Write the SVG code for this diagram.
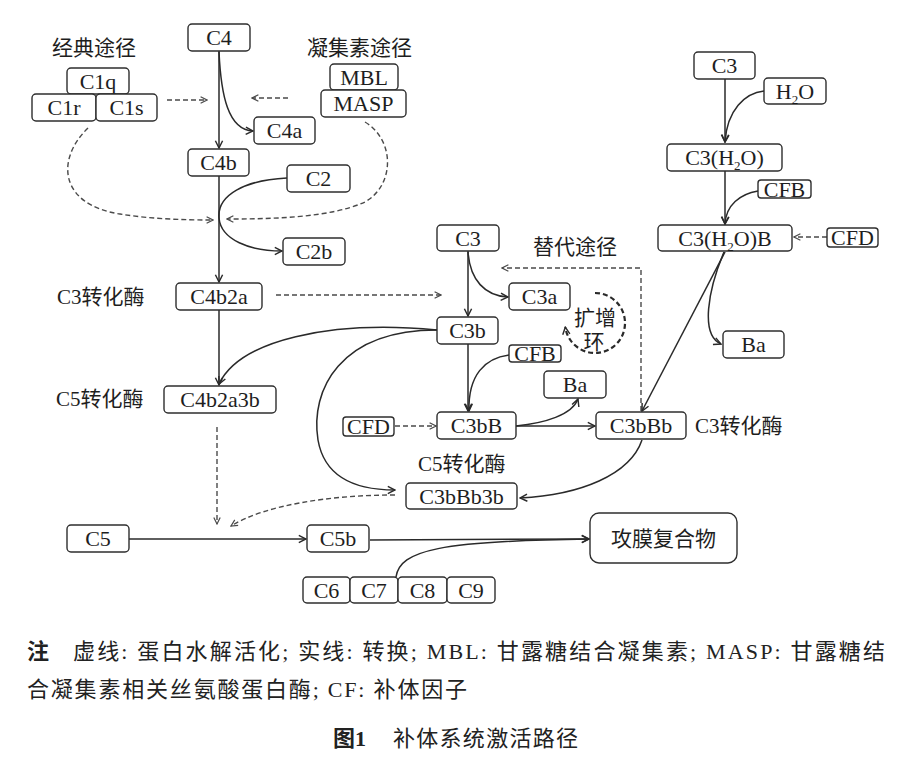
<svg xmlns="http://www.w3.org/2000/svg" width="909" height="766" viewBox="0 0 909 766">
<style>
.bx{fill:#fff;stroke:#2e2e2e;stroke-width:1.4}
.t{font-family:"Liberation Serif","Noto Sans CJK SC",serif;font-size:22px;fill:#1e1e1e;text-anchor:middle}
.cj{font-family:"Liberation Serif","Noto Sans CJK SC",serif;font-size:21px;fill:#1e1e1e}
.sol{fill:none;stroke:#2a2a2a;stroke-width:1.5;marker-end:url(#a)}
.das{fill:none;stroke:#4a4a4a;stroke-width:1.4;stroke-dasharray:5 3;marker-end:url(#ad)}
.note{font-family:"Liberation Serif","Noto Sans CJK SC",serif;font-size:22px;fill:#222}
</style>
<defs>
<marker id="a" viewBox="0 0 10 10" refX="9" refY="5" markerWidth="9" markerHeight="10" markerUnits="userSpaceOnUse" orient="auto">
<path d="M1,1 L9,5 L1,9" fill="none" stroke="#2a2a2a" stroke-width="1.6"/>
</marker>
<marker id="ad" viewBox="0 0 10 10" refX="9" refY="5" markerWidth="8" markerHeight="9" markerUnits="userSpaceOnUse" orient="auto">
<path d="M1,1 L9,5 L1,9" fill="none" stroke="#4a4a4a" stroke-width="1.5"/>
</marker>
</defs>
<rect width="909" height="766" fill="#fff"/>

<g id="connectors">
<path class="sol" d="M219,51 L219,148"/>
<path class="sol" d="M219,52 C221,95 228,130 253,131"/>
<path class="das" d="M167,100 L207,100"/>
<path class="das" d="M288,98 L252,98"/>
<path class="sol" d="M219,176 L219,282"/>
<path class="sol" d="M287,178 C245,180 217,195 219,218 C221,240 250,251 282,251"/>
<path class="das" d="M88,128 C55,160 60,205 120,214 C150,219 185,220 213,220"/>
<path class="das" d="M365,122 C395,140 395,185 365,202 C330,218 270,219 227,219"/>
<path class="sol" d="M219,310 L219,385"/>
<path class="das" d="M276,295 L441,295"/>
<path class="sol" d="M468,251 L468,316"/>
<path class="sol" d="M468,252 C470,280 485,296 508,297"/>
<path class="sol" d="M437,330 C330,320 240,340 219,384"/>
<path class="sol" d="M437,330 C340,330 310,390 318,440 C325,480 360,490 395,490"/>
<path class="sol" d="M468,344 L468,411"/>
<path class="sol" d="M509,355 C485,358 468,375 469,411"/>
<path class="das" d="M395,426 L436,426"/>
<path class="sol" d="M516,426 C545,423 572,415 578,399"/>
<path class="sol" d="M516,426 L595,426"/>
<path class="das" d="M641,411 L641,268 L502,268"/>
<path class="sol" d="M642,440 C630,475 580,495 520,498"/>
<path d="M595,293 A30,30 0 1 1 565.3,327.2" fill="none" stroke="#2a2a2a" stroke-width="2.2" stroke-dasharray="5 3" marker-end="url(#a)"/>
<path class="sol" d="M725,79 L725,142"/>
<path class="sol" d="M764,91 C745,93 727,110 725,142"/>
<path class="sol" d="M725,171 L725,224"/>
<path class="sol" d="M758,191 C740,194 726,205 725,224"/>
<path class="das" d="M827,237 L794,237"/>
<path class="sol" d="M724,252 C708,290 700,335 721,344"/>
<path class="sol" d="M725,252 L642,411"/>
<path class="das" d="M217,427 L217,524"/>
<path class="das" d="M395,495 C330,495 265,505 231,526"/>
<path class="sol" d="M129,539 L306,539"/>
<path class="sol" d="M370,540 L589,539"/>
<path class="sol" d="M396,577 C400,550 440,541 589,539"/>
</g>

<g id="label-classical"><text class="cj" x="52" y="55">经典途径</text></g>
<g id="label-lectin"><text class="cj" x="307" y="55">凝集素途径</text></g>
<g id="label-alternative"><text class="cj" x="533" y="254">替代途径</text></g>
<g id="label-c3conv-left"><text class="cj" x="57" y="304">C3转化酶</text></g>
<g id="label-c5conv-left"><text class="cj" x="56" y="406">C5转化酶</text></g>
<g id="label-c3conv-right"><text class="cj" x="695" y="433">C3转化酶</text></g>
<g id="label-c5conv-mid"><text class="cj" x="418" y="471">C5转化酶</text></g>
<g id="label-amplify"><text class="cj" x="595" y="325" text-anchor="middle" font-size="19">扩增</text><text class="cj" x="594" y="349" text-anchor="middle" font-size="19">环</text></g>

<g id="n-C4"><rect class="bx" x="188" y="24" width="62" height="27" rx="4"/><text class="t" x="219" y="45">C4</text></g>
<g id="n-C1q"><rect class="bx" x="67" y="68" width="62" height="26" rx="4"/><text class="t" x="98" y="88.5">C1q</text></g>
<g id="n-C1r"><rect class="bx" x="32" y="94" width="64" height="27" rx="4"/><text class="t" x="64" y="115">C1r</text></g>
<g id="n-C1s"><rect class="bx" x="96" y="94" width="61" height="27" rx="4"/><text class="t" x="126.5" y="115">C1s</text></g>
<g id="n-MBL"><rect class="bx" x="330" y="64" width="68" height="26" rx="4"/><text class="t" x="364" y="84.5">MBL</text></g>
<g id="n-MASP"><rect class="bx" x="321" y="90" width="85" height="27" rx="4"/><text class="t" x="363.5" y="111">MASP</text></g>
<g id="n-C4a"><rect class="bx" x="254" y="117" width="61" height="27" rx="4"/><text class="t" x="284.5" y="138">C4a</text></g>
<g id="n-C4b"><rect class="bx" x="188" y="149" width="61" height="27" rx="4"/><text class="t" x="218.5" y="170">C4b</text></g>
<g id="n-C2"><rect class="bx" x="287" y="165" width="63" height="27" rx="4"/><text class="t" x="318.5" y="186">C2</text></g>
<g id="n-C2b"><rect class="bx" x="283" y="238" width="62" height="27" rx="4"/><text class="t" x="314" y="259">C2b</text></g>
<g id="n-C4b2a"><rect class="bx" x="176" y="283" width="86" height="27" rx="4"/><text class="t" x="219" y="304">C4b2a</text></g>
<g id="n-C4b2a3b"><rect class="bx" x="164" y="386" width="112" height="27" rx="4"/><text class="t" x="220" y="407">C4b2a3b</text></g>
<g id="n-C3-mid"><rect class="bx" x="437" y="225" width="62" height="26" rx="4"/><text class="t" x="468" y="245.5">C3</text></g>
<g id="n-C3a"><rect class="bx" x="509" y="283" width="61" height="27" rx="4"/><text class="t" x="539.5" y="304">C3a</text></g>
<g id="n-C3b"><rect class="bx" x="437" y="317" width="61" height="27" rx="4"/><text class="t" x="467.5" y="338">C3b</text></g>
<g id="n-CFB-mid"><rect class="bx" x="509" y="345" width="52" height="17" rx="3"/><text class="t" x="535" y="361">CFB</text></g>
<g id="n-Ba-mid"><rect class="bx" x="544" y="371" width="62" height="27" rx="4"/><text class="t" x="575" y="392">Ba</text></g>
<g id="n-CFD-left"><rect class="bx" x="343" y="417" width="51" height="19" rx="3"/><text class="t" x="368.5" y="434">CFD</text></g>
<g id="n-C3bB"><rect class="bx" x="437" y="412" width="79" height="27" rx="4"/><text class="t" x="476.5" y="433">C3bB</text></g>
<g id="n-C3bBb"><rect class="bx" x="596" y="412" width="90" height="27" rx="4"/><text class="t" x="641" y="433">C3bBb</text></g>
<g id="n-C3bBb3b"><rect class="bx" x="406" y="483" width="111" height="26" rx="4"/><text class="t" x="461.5" y="503.5">C3bBb3b</text></g>
<g id="n-C3-right"><rect class="bx" x="694" y="52" width="61" height="27" rx="4"/><text class="t" x="724.5" y="73">C3</text></g>
<g id="n-H2O"><rect class="bx" x="764" y="78" width="62" height="26" rx="4"/><text class="t" x="795" y="98.5">H<tspan font-size="13" dy="5">2</tspan><tspan dy="-5">O</tspan></text></g>
<g id="n-C3H2O"><rect class="bx" x="667" y="144" width="115" height="27" rx="4"/><text class="t" x="724.5" y="165">C3(H<tspan font-size="13" dy="5">2</tspan><tspan dy="-5">O)</tspan></text></g>
<g id="n-CFB-right"><rect class="bx" x="758" y="180" width="53" height="18" rx="3"/><text class="t" x="784.5" y="196.5">CFB</text></g>
<g id="n-C3H2OB"><rect class="bx" x="658" y="225" width="134" height="26" rx="4"/><text class="t" x="725" y="245.5">C3(H<tspan font-size="13" dy="5">2</tspan><tspan dy="-5">O)B</tspan></text></g>
<g id="n-CFD-right"><rect class="bx" x="827" y="228" width="51" height="19" rx="3"/><text class="t" x="852.5" y="245">CFD</text></g>
<g id="n-Ba-right"><rect class="bx" x="723" y="331" width="61" height="27" rx="4"/><text class="t" x="753.5" y="352">Ba</text></g>
<g id="n-C5"><rect class="bx" x="67" y="525" width="62" height="27" rx="4"/><text class="t" x="98" y="546">C5</text></g>
<g id="n-C5b"><rect class="bx" x="307" y="525" width="62" height="27" rx="4"/><text class="t" x="338" y="546">C5b</text></g>
<g id="n-MAC"><rect class="bx" x="590" y="513" width="147" height="50" rx="9"/><text class="cj" x="663.5" y="546" text-anchor="middle">攻膜复合物</text></g>
<g id="n-C6"><rect class="bx" x="303" y="577" width="47" height="26" rx="4"/><text class="t" x="326.5" y="597.5">C6</text></g>
<g id="n-C7"><rect class="bx" x="350" y="577" width="48" height="26" rx="4"/><text class="t" x="374" y="597.5">C7</text></g>
<g id="n-C8"><rect class="bx" x="398" y="577" width="49" height="26" rx="4"/><text class="t" x="422.5" y="597.5">C8</text></g>
<g id="n-C9"><rect class="bx" x="447" y="577" width="48" height="26" rx="4"/><text class="t" x="471" y="597.5">C9</text></g>

<g id="notes">
<text class="note" x="27" y="659" font-weight="bold">注</text>
<text class="note" x="73" y="659" textLength="812" lengthAdjust="spacing">虚线: 蛋白水解活化; 实线: 转换; MBL: 甘露糖结合凝集素; MASP: 甘露糖结</text>
<text class="note" x="27" y="697" textLength="440" lengthAdjust="spacing">合凝集素相关丝氨酸蛋白酶; CF: 补体因子</text>
</g>
<g id="caption">
<text class="note" x="333" y="746" font-weight="bold">图1</text>
<text class="note" x="393" y="746" textLength="185" lengthAdjust="spacing">补体系统激活路径</text>
</g>
</svg>
